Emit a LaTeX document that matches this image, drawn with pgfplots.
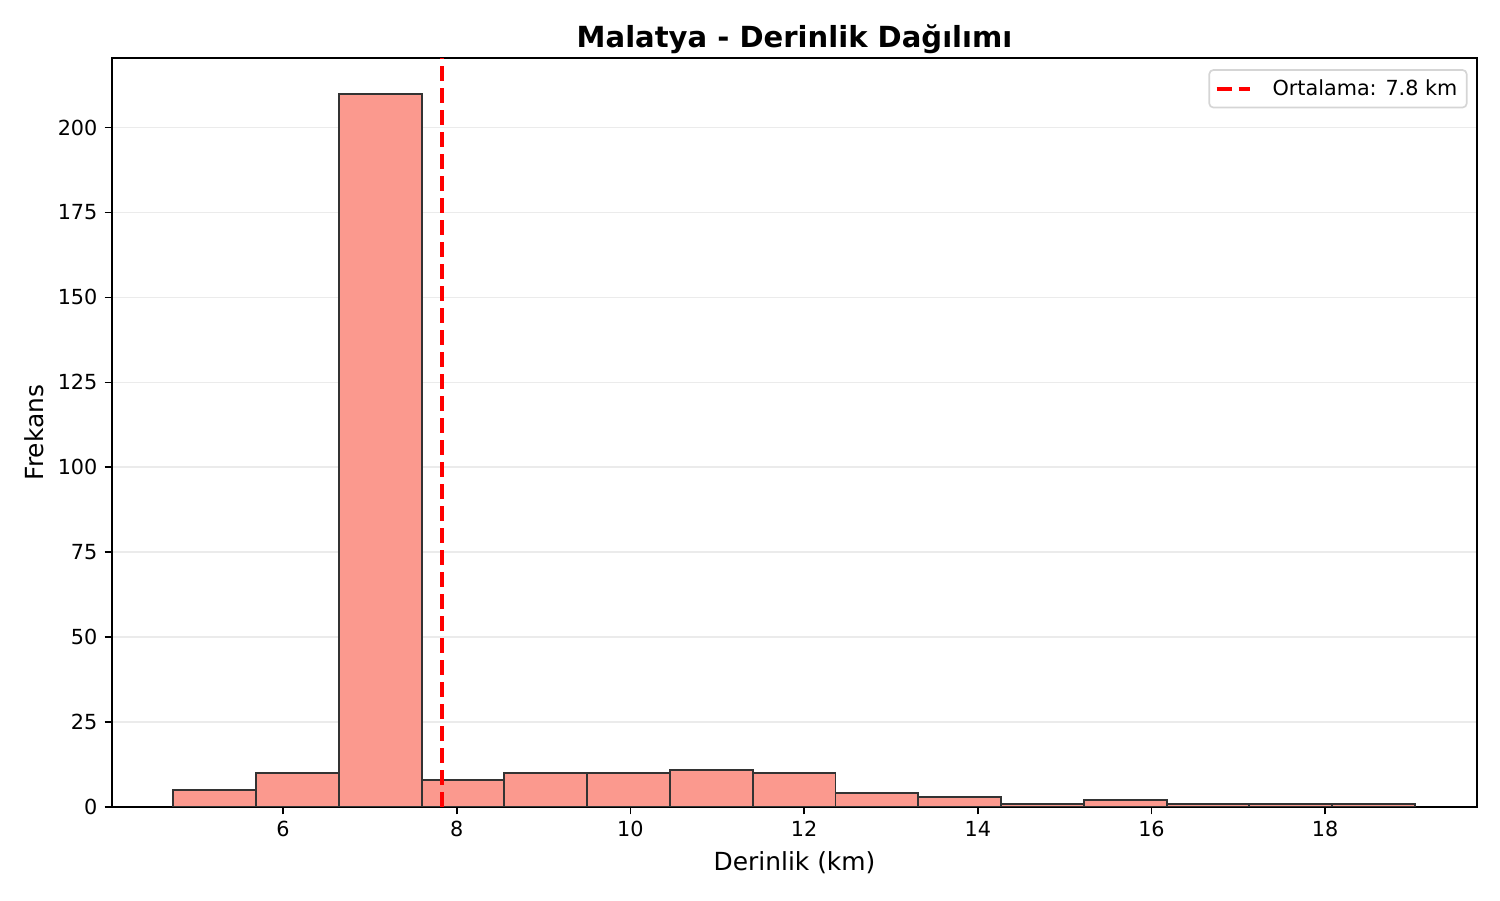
\documentclass[border=0pt]{standalone}
\usepackage{pgfplots}
\pgfplotsset{compat=1.18}
\usepackage{fontspec}
\setmainfont{DejaVu Sans}

\definecolor{barfill}{RGB}{251,153,142}
\definecolor{baredge}{RGB}{51,51,51}
\definecolor{gridgray}{RGB}{235,235,235}

\begin{document}
\begin{tikzpicture}
% full figure area (1500x900 px at 150 dpi)
\path (-53.96pt,-44.81pt) rectangle (668.74pt,388.81pt);
\begin{axis}[
  scale only axis,
  width=657.7pt,
  height=360.9pt,
  xmin=4.03, xmax=19.75,
  ymin=0, ymax=220.5,
  xtick={6,8,...,18},
  ytick={0,25,...,200},
  xtick pos=bottom,
  ytick pos=left,
  tick align=outside,
  major tick length=3.5pt,
  tick style={black, line width=0.8pt},
  axis line style={line width=0.8pt},
  ymajorgrids,
  grid style={gridgray, line width=0.8pt},
  tick label style={font=\fontsize{10}{12}\selectfont},
  /pgf/number format/assume math mode=true,
  title={\bfseries Malatya - Derinlik Dağılımı},
  title style={font=\fontsize{14}{16}\selectfont, yshift=-7.5pt},
  xlabel={Derinlik (km)},
  ylabel={Frekans},
  label style={font=\fontsize{12}{14}\selectfont},
  legend style={at={(0.993,0.985)}, anchor=north east,
    draw=gridgray!80!gray, rounded corners=2pt, line width=0.8pt,
    font=\fontsize{10}{12}\selectfont, inner sep=2.5pt},
  legend cell align=left,
  legend image code/.code={\draw[#1] (0pt,0pt) -- (16pt,0pt);},
]

% histogram: bin left edges and counts (last row closes the final bin)
\addplot[ybar interval, fill=barfill, draw=baredge, line width=0.9pt, forget plot] coordinates {
  (4.735, 5)
  (5.688, 10)
  (6.642, 210)
  (7.595, 8)
  (8.548, 10)
  (9.502, 10)
  (10.455, 11)
  (11.408, 10)
  (12.362, 4)
  (13.315, 3)
  (14.268, 1)
  (15.222, 2)
  (16.175, 1)
  (17.128, 1)
  (18.082, 1)
  (19.035, 1)
};

% mean line
\addplot[red, line width=2pt, dash pattern=on 7.4pt off 3.2pt] coordinates {
  (7.835, 0)
  (7.835, 220.5)
};
\legend{\hspace{8pt}Ortalama: 7.8 km}
\end{axis}
\end{tikzpicture}
\end{document}
